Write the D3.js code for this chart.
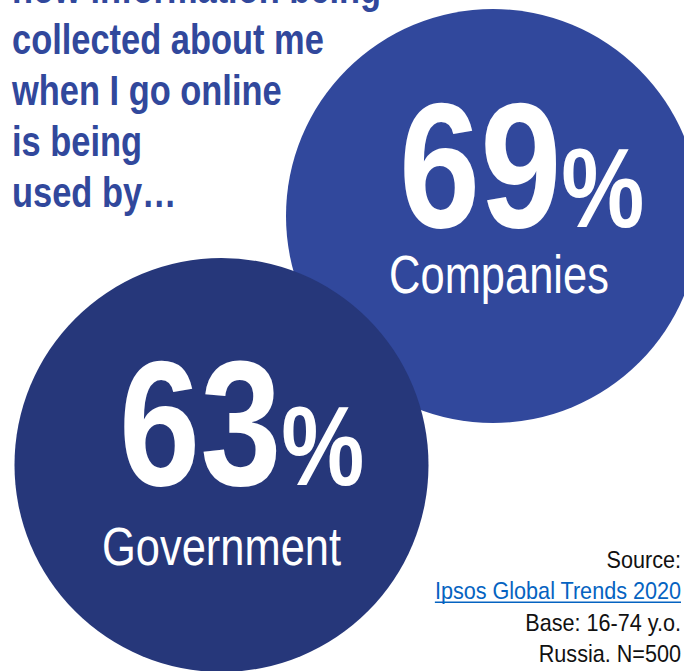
<!DOCTYPE html>
<html>
<head>
<meta charset="utf-8">
<script src="https://cdn.jsdelivr.net/npm/d3@7"></script>
<style>
  html, body { margin: 0; padding: 0; background: #ffffff; }
  svg { display: block; }
</style>
</head>
<body>
<svg id="chart" width="684" height="671"></svg>
<script>
// Share of respondents who think their online data is being used by...
const categories = ["Companies", "Government"];
const shares = [69, 63];

const titleLines = [
  "how information being",
  "collected about me",
  "when I go online",
  "is being",
  "used by\u2026"
];

const sourceLines = [
  { text: "Source:", link: false },
  { text: "Ipsos Global Trends 2020", link: true },
  { text: "Base: 16-74 y.o.", link: false },
  { text: "Russia. N=500", link: false }
];

const W = 684, H = 671;
const svg = d3.select("#chart");

const FONT = "'Liberation Sans', Arial, Helvetica, sans-serif";
const NARROW = 0.82; // horizontal squeeze for a condensed look
const fillOf = d3.scaleOrdinal().domain(categories).range(["#31489c", "#26377a"]);

// bubble placement
const cx = d3.scalePoint().domain(categories).range([493, 221.5]);
const cy = d3.scalePoint().domain(categories).range([216, 465]);
const R = 207;

// per-bubble text offsets from the bubble centre
const numOffset = { Companies: [-94, 11], Government: [-102.5, 20] };
const labelOffset = { Companies: [6, 77], Government: [0, 100] };

const bubbles = categories.map((c, i) => ({ cat: c, value: shares[i] }));

// title
const titleG = svg.append("g").attr("transform", "translate(12,0)");
titleLines.forEach((line, i) => {
  titleG.append("g")
    .attr("transform", `translate(0,${3 + i * 51}) scale(${NARROW},1)`)
    .append("text")
    .attr("font-family", FONT)
    .attr("font-weight", "bold")
    .attr("font-size", 42)
    .attr("fill", "#31489c")
    .text(line);
});

// bubbles: Companies first, Government drawn on top
const g = svg.selectAll("g.bubble")
  .data(bubbles)
  .join("g")
  .attr("class", "bubble")
  .attr("transform", d => `translate(${cx(d.cat)},${cy(d.cat)})`);

g.append("circle")
  .attr("r", R)
  .attr("fill", d => fillOf(d.cat));

g.append("g")
  .attr("transform", d => `translate(${numOffset[d.cat][0]},${numOffset[d.cat][1]}) scale(${NARROW},1)`)
  .append("text")
  .attr("font-family", FONT)
  .attr("font-weight", "bold")
  .attr("fill", "#ffffff")
  .call(t => {
    t.append("tspan").attr("font-size", 178).text(d => d.value);
    t.append("tspan").attr("font-size", 114).text("%");
  });

g.append("g")
  .attr("transform", d => `translate(${labelOffset[d.cat][0]},${labelOffset[d.cat][1]}) scale(${NARROW},1)`)
  .append("text")
  .attr("font-family", FONT)
  .attr("font-size", 53)
  .attr("fill", "#ffffff")
  .attr("text-anchor", "middle")
  .text(d => d.cat);

// source note, right aligned
const SRC_SCALE = 0.9;
sourceLines.forEach((s, i) => {
  const y = 568 + i * 31.3;
  const sg = svg.append("g").attr("transform", `translate(681,${y}) scale(${SRC_SCALE},1)`);
  const t = sg.append("text")
    .attr("font-family", FONT)
    .attr("font-size", 24)
    .attr("text-anchor", "end")
    .attr("fill", s.link ? "#0563c1" : "#111111")
    .text(s.text);
  if (s.link) {
    const w = t.node().getComputedTextLength();
    sg.append("line")
      .attr("x1", -w).attr("x2", 0)
      .attr("y1", 3).attr("y2", 3)
      .attr("stroke", "#0563c1")
      .attr("stroke-width", 1.6);
  }
});
</script>
</body>
</html>
